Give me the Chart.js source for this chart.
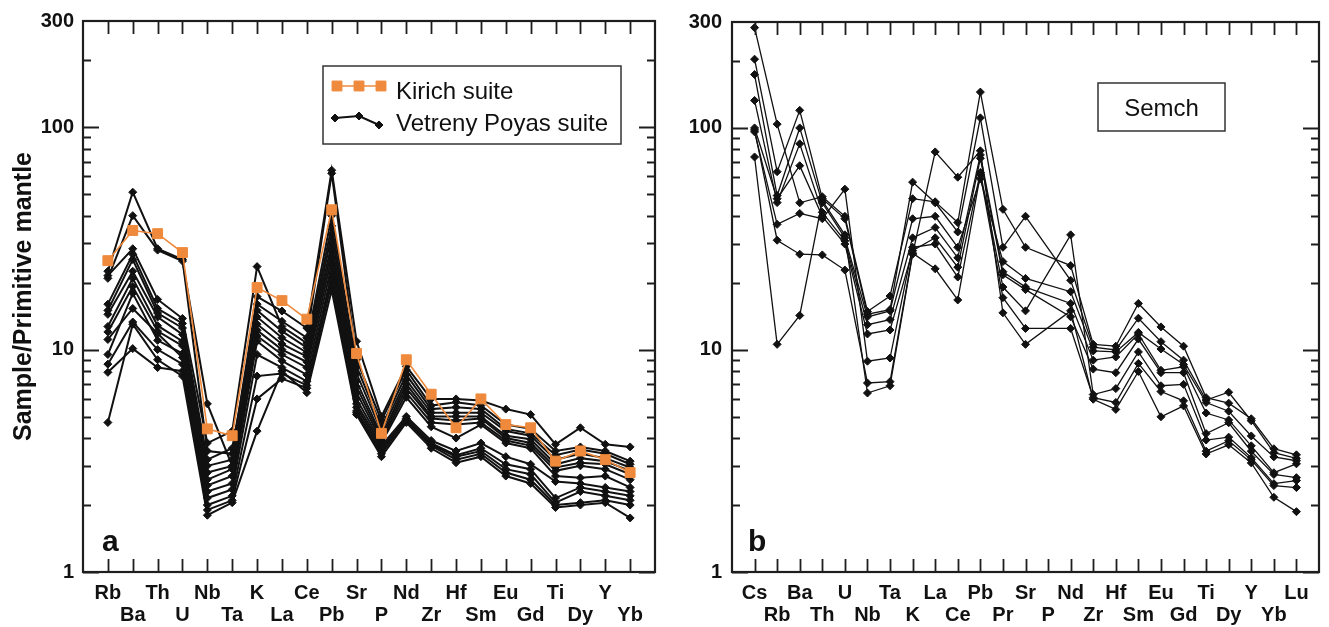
<!DOCTYPE html>
<html>
<head>
<meta charset="utf-8">
<title>Primitive mantle normalised spidergrams</title>
<script src="https://cdn.jsdelivr.net/npm/chart.js@4.4.1/dist/chart.umd.min.js"></script>
<style>
  html, body { margin: 0; padding: 0; background: #fff; }
  #wrap { position: relative; width: 1329px; height: 627px; }
  canvas { position: absolute; top: 0; }
  #panelA { left: 0; }
  #panelB { left: 665px; }
</style>
</head>
<body>
<div id="wrap">
  <canvas id="panelA" width="665" height="627"></canvas>
  <canvas id="panelB" width="664" height="627"></canvas>
</div>
<script>
const FONT = "'Liberation Sans', Arial, Helvetica, sans-serif";
const ORANGE = '#ef8a3c';
const INK = '#111';

// element order along the x axis
const elementsA = ['Rb', 'Ba', 'Th', 'U', 'Nb', 'Ta', 'K', 'La', 'Ce', 'Pb', 'Sr', 'P', 'Nd', 'Zr', 'Hf', 'Sm', 'Eu', 'Gd', 'Ti', 'Dy', 'Y', 'Yb'];
const elementsB = ['Cs', 'Rb', 'Ba', 'Th', 'U', 'Nb', 'Ta', 'K', 'La', 'Ce', 'Pb', 'Pr', 'Sr', 'P', 'Nd', 'Zr', 'Hf', 'Sm', 'Eu', 'Gd', 'Ti', 'Dy', 'Y', 'Yb', 'Lu'];

// log axis: labelled values, long ticks and short ticks
const yTickValues = [1, 10, 100, 300];
const yMajorTicks = [1, 10, 100];
const yMinorTicks = [2, 3, 4, 5, 6, 7, 8, 9, 20, 30, 40, 50, 60, 70, 80, 90, 200];

// sample / primitive mantle, panel a
const kirich = [25.1, 34.3, 33.2, 27.3, 4.4, 4.1, 19.0, 16.6, 13.7, 42.5, 9.6, 4.2, 9.0, 6.3, 4.45, 6.0, 4.6, 4.45, 3.15, 3.5, 3.2, 2.8];

const vetrenyPoyas = [
  [22.5, 51, 28.4, 25.4, 3.5, 3.4, 17.3, 14.9, 12.5, 64, 10.9, 5.0, 8.4, 6.0, 6.0, 5.9, 5.4, 5.1, 3.75, 4.45, 3.75, 3.65],
  [20.9, 40, 28.0, 25.0, 5.7, 3.0, 16, 13.4, 11.3, 62, 9.0, 4.8, 8.1, 5.6, 5.8, 5.6, 4.6, 4.4, 3.5, 3.65, 3.5, 3.15],
  [21.5, 28.4, 16.8, 13.8, 3.8, 4.3, 23.6, 12.7, 10.7, 40, 8.4, 4.5, 7.7, 5.4, 5.5, 5.4, 4.4, 4.2, 3.35, 3.55, 3.4, 3.05],
  [16, 26.8, 15.3, 13.1, 3.2, 3.6, 15, 12.1, 10.2, 36, 7.8, 4.3, 7.3, 5.2, 5.2, 5.2, 4.3, 4.1, 3.2, 3.4, 3.25, 2.95],
  [15, 25.4, 14.6, 12.5, 3.0, 3.2, 14, 11.3, 9.7, 33, 7.2, 4.1, 7.0, 5.0, 5.0, 5.0, 4.1, 3.95, 3.05, 3.25, 3.15, 2.85],
  [14.4, 22.5, 14.0, 11.7, 2.8, 3.0, 13, 10.6, 9.3, 30, 6.8, 4.0, 6.7, 4.9, 4.8, 4.9, 4.0, 3.8, 2.95, 3.1, 3.05, 2.75],
  [12.7, 20.9, 12.8, 10.9, 2.6, 2.9, 12.2, 10.0, 8.8, 28, 6.4, 3.9, 6.4, 4.7, 4.6, 4.7, 3.9, 3.7, 2.85, 3.0, 2.9, 2.6],
  [12, 19.2, 12.1, 10.4, 2.45, 2.7, 11.5, 9.5, 8.3, 26, 6.0, 3.8, 6.1, 4.5, 4.0, 4.6, 3.8, 3.6, 2.7, 2.65, 2.7, 2.4],
  [9.5, 17.9, 11.0, 9.6, 2.3, 2.5, 10.9, 8.9, 7.7, 24, 5.7, 3.7, 5.0, 3.9, 3.5, 3.8, 3.3, 3.05, 2.55, 2.5, 2.4, 2.3],
  [11.1, 15.3, 11.8, 9.2, 2.15, 2.35, 9.5, 8.3, 7.2, 22, 5.5, 3.6, 4.9, 3.8, 3.35, 3.6, 3.05, 2.9, 2.15, 2.4, 2.3, 2.2],
  [8.6, 13.3, 10.0, 8.6, 2.0, 2.2, 7.6, 7.8, 6.9, 21, 5.3, 3.5, 4.85, 3.75, 3.3, 3.5, 2.9, 2.75, 2.05, 2.3, 2.2, 2.1],
  [7.9, 10.1, 8.3, 8.0, 1.9, 2.1, 6.0, 7.4, 6.7, 20, 5.2, 3.4, 4.8, 3.7, 3.2, 3.4, 2.8, 2.6, 2.0, 2.05, 2.1, 2.0],
  [4.7, 13.0, 9.0, 7.6, 1.8, 2.05, 4.3, 8.0, 6.4, 18.5, 5.1, 3.3, 4.7, 3.6, 3.1, 3.3, 2.7, 2.5, 1.95, 2.0, 2.05, 1.75]
];

// sample / primitive mantle, panel b (P not analysed)
const semch = [
  [283, 104, 46, 49, 40, 14.9, 17.5, 48, 46.5, 37.5, 145, 43, 29, null, 24, 10.6, 10.4, 16.2, 12.7, 10.4, 6.1, 5.76, 4.9, 3.59, 3.37],
  [204, 63.5, 120, 48, 39, 14.5, 15.2, 57, 46, 34, 111, 29, 40, null, 20.6, 10.3, 10.0, 13.9, 10.9, 9.0, 5.95, 6.45, 4.8, 3.45, 3.25],
  [174, 49.6, 100, 46, 32, 14.1, 15.0, 39, 40, 29, 59, 25, 21, null, 18.3, 9.9, 9.8, 12.0, 10.1, 8.6, 5.8, 5.3, 4.1, 3.3, 3.17],
  [133, 46.1, 84.8, 41.7, 31, 13.0, 13.7, 32, 35.6, 26, 75.6, 22.5, 19.2, null, 16.2, 9.0, 9.3, 11.8, 8.1, 8.4, 5.2, 4.84, 3.7, 2.8, 3.07],
  [100, 48, 67.6, 40, 30, 11.8, 12.3, 28, 32, 23.6, 73, 21.8, 18.7, null, 14.1, 8.2, 7.9, 11.2, 7.9, 7.9, 4.2, 4.7, 3.5, 2.75, 2.66],
  [96, 36.8, 41.2, 39, 53, 8.9, 9.2, 29, 30, 21.3, 63, 19.2, 15, null, 33, 6.3, 6.7, 9.8, 6.9, 7.0, 3.93, 4.05, 3.27, 2.5, 2.58],
  [98, 31.2, 27, 26.8, 22.9, 7.1, 7.2, 27.3, 23.2, 16.8, 61.6, 17.2, 12.5, null, 12.5, 6.1, 5.8, 8.7, 6.5, 5.9, 3.5, 3.9, 3.2, 2.45, 2.4],
  [74, 10.6, 14.3, 47, 33, 6.4, 6.9, 27, 78, 60, 78.9, 14.7, 10.6, null, 15, 6.0, 5.4, 8.0, 5.0, 5.6, 3.4, 3.74, 3.1, 2.17, 1.87]
];

// an empty slot either side of the element list
const padRow = row => [null, ...row, null];
const padLabels = names => ['', ...names, ''];

// box frame with inward ticks on all four sides
const frameTicks = {
  id: 'frameTicks',
  afterDatasetsDraw(chart) {
    const { ctx, chartArea: { left, right, top, bottom }, scales: { x, y } } = chart;
    ctx.save();
    ctx.strokeStyle = '#1e1e1e';
    ctx.lineWidth = 1.8;
    ctx.beginPath();
    for (let i = 1; i < x.ticks.length - 1; i++) {
      const px = Math.round(x.getPixelForTick(i)) + 0.5;
      ctx.moveTo(px, top); ctx.lineTo(px, top + 13);
      ctx.moveTo(px, bottom); ctx.lineTo(px, bottom - 13);
    }
    const hTick = (v, len) => {
      const py = Math.round(y.getPixelForValue(v)) + 0.5;
      ctx.moveTo(left, py); ctx.lineTo(left + len, py);
      ctx.moveTo(right, py); ctx.lineTo(right - len, py);
    };
    yMinorTicks.forEach(v => hTick(v, 8));
    yMajorTicks.forEach(v => hTick(v, 16));
    ctx.stroke();
    ctx.lineWidth = 2.2;
    ctx.strokeRect(left, top, right - left, bottom - top);
    ctx.restore();
  }
};

// panel letter plus legend or group name box
const panelDecor = {
  id: 'panelDecor',
  afterDraw(chart, args, opts) {
    const { ctx, chartArea: { left, top, bottom } } = chart;
    ctx.save();
    ctx.fillStyle = INK;
    ctx.textBaseline = 'alphabetic';
    ctx.font = `bold 30px ${FONT}`;
    ctx.fillText(opts.letter, left + opts.letterDx, bottom - 21);

    const b = opts.box;
    const bx = left + b.x, by = top + b.y;
    ctx.fillStyle = '#fff';
    ctx.fillRect(bx, by, b.w, b.h);
    ctx.strokeStyle = '#333';
    ctx.lineWidth = 1.5;
    ctx.strokeRect(bx, by, b.w, b.h);
    ctx.font = `24px ${FONT}`;
    ctx.fillStyle = INK;

    if (b.title) {
      ctx.textAlign = 'center';
      ctx.fillText(b.title, bx + b.w / 2, by + b.h / 2 + 9);
    } else {
      const seen = new Set();
      const entries = chart.data.datasets.filter(d => !seen.has(d.label) && seen.add(d.label));
      entries.forEach((d, i) => {
        const pts = b.samples[i].map(([px, py]) => [bx + px, by + py]);
        ctx.strokeStyle = d.borderColor;
        ctx.lineWidth = d.borderWidth;
        ctx.beginPath();
        pts.forEach(([px, py], k) => k ? ctx.lineTo(px, py) : ctx.moveTo(px, py));
        ctx.stroke();
        ctx.fillStyle = d.pointBackgroundColor;
        ctx.strokeStyle = d.pointBorderColor;
        ctx.lineWidth = 1;
        pts.forEach(([px, py]) => Chart.helpers.drawPoint(ctx, {
          pointStyle: d.pointStyle, radius: d.pointRadius, rotation: 0, borderWidth: 1
        }, px, py));
        ctx.fillStyle = INK;
        ctx.textAlign = 'left';
        ctx.fillText(d.label, bx + b.textX, by + b.baselines[i]);
      });
    }
    ctx.restore();
  }
};

const tickFont = { family: FONT, size: 20, weight: 'bold', lineHeight: 1.1 };

const makeChart = (canvasId, names, datasets, cfg) => new Chart(document.getElementById(canvasId), {
  type: 'line',
  data: { labels: padLabels(names), datasets: datasets },
  options: {
    responsive: false,
    animation: false,
    devicePixelRatio: 1,
    layout: { padding: { left: 0, top: 18, right: cfg.padRight, bottom: 0 } },
    plugins: {
      legend: { display: false },
      tooltip: { enabled: false },
      panelDecor: cfg.decor
    },
    scales: {
      x: {
        type: 'category',
        grid: { display: false, drawTicks: false },
        border: { display: false },
        ticks: {
          autoSkip: false,
          maxRotation: 0,
          padding: 10,
          color: INK,
          font: tickFont,
          // alternate element names between two rows
          callback(value, index) {
            const name = this.getLabelForValue(value);
            if (!name) return '';
            return index % 2 === 1 ? [name, ''] : ['', name];
          }
        },
        afterFit: s => { s.height = 55; }
      },
      y: {
        type: 'logarithmic',
        min: 1,
        max: 300,
        grid: { display: false, drawTicks: false },
        border: { display: false },
        afterBuildTicks: s => { s.ticks = yTickValues.map(v => ({ value: v })); },
        ticks: {
          padding: cfg.yPad,
          color: INK,
          font: { family: FONT, size: 20, weight: 'bold' },
          callback: v => String(v)
        },
        title: cfg.yTitle
          ? { display: true, text: cfg.yTitle, color: INK, padding: { top: 9, bottom: 0 },
              font: { family: FONT, size: 25, weight: 'bold' } }
          : { display: false },
        afterFit: s => { s.width = cfg.yWidth; }
      }
    }
  },
  plugins: [frameTicks, panelDecor]
});

const blackLine = (label, row, width, radius) => ({
  label: label,
  data: padRow(row),
  borderColor: INK,
  backgroundColor: INK,
  borderWidth: width,
  pointStyle: 'rectRot',
  pointRadius: radius,
  pointBackgroundColor: INK,
  pointBorderColor: INK,
  pointBorderWidth: 1,
  spanGaps: true
});

const datasetsA = [
  {
    label: 'Kirich suite',
    data: padRow(kirich),
    borderColor: ORANGE,
    backgroundColor: ORANGE,
    borderWidth: 1.6,
    pointStyle: 'rect',
    pointRadius: 7,
    pointBackgroundColor: ORANGE,
    pointBorderColor: ORANGE,
    pointBorderWidth: 1
  },
  ...vetrenyPoyas.map(row => blackLine('Vetreny Poyas suite', row, 2, 4))
];

const datasetsB = semch.map(row => blackLine('Semch', row, 1.3, 4));

makeChart('panelA', elementsA, datasetsA, {
  padRight: 8,
  yWidth: 83,
  yPad: 9,
  yTitle: 'Sample/Primitive mantle',
  decor: {
    letter: 'a',
    letterDx: 19,
    box: {
      x: 240, y: 45, w: 298, h: 78,
      samples: [[[14, 20], [36, 20], [58, 20]], [[12, 52], [36, 50], [56, 59]]],
      textX: 73,
      baselines: [33, 65]
    }
  }
});

makeChart('panelB', elementsB, datasetsB, {
  padRight: 3,
  yWidth: 67,
  yPad: 10,
  yTitle: null,
  decor: {
    letter: 'b',
    letterDx: 16,
    box: { x: 366, y: 61, w: 127, h: 48, title: 'Semch' }
  }
});
</script>
</body>
</html>
